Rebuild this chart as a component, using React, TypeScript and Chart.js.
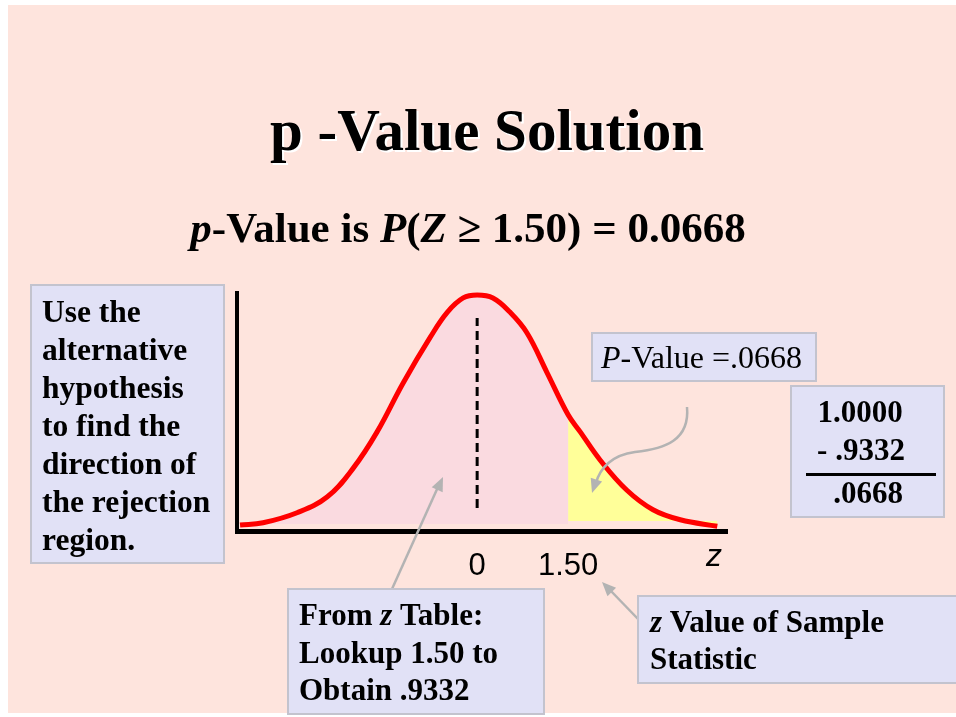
import React, { useEffect, useRef } from "react";
import { Chart, registerables } from "chart.js";
Chart.register(...registerables);

// ---- data ----
const zValues = [-3.91, -3.53, -2.97, -2.47, -2.04, -1.65, -1.22, -0.77, -0.49, -0.23, 0, 0.26, 0.54, 0.82, 1.15, 1.5, 1.7, 2.03, 2.47, 2.9, 3.35, 3.96];
const density = [0.01, 0.014, 0.031, 0.058, 0.107, 0.168, 0.251, 0.329, 0.371, 0.395, 0.4, 0.395, 0.371, 0.336, 0.269, 0.197, 0.168, 0.12, 0.069, 0.036, 0.019, 0.008];
const zObserved = 1.5;
const tickValues = [0, 1.5];
const tickLabels = ["0", "1.50"];
const meanLineZ = 0;
const meanLineRange = [0.039, 0.361];
const zMin = -3.96;
const zMax = 4.12;
const densityMax = 0.4034;

const titleText = "p -Value Solution";
const leftBoxLines = ["Use the", "alternative", "hypothesis", "to find the", "direction of", "the rejection", "region."];
const calcLines = ["1.0000", "- .9332", ".0668"];

const SERIF = '"Liberation Serif", "Times New Roman", serif';
const SANS = '"Liberation Sans", Arial, sans-serif';
const B = (s: number) => `bold ${s}px ${SERIF}`;
const BI = (s: number) => `italic bold ${s}px ${SERIF}`;
const R = (s: number) => `${s}px ${SERIF}`;
const I = (s: number) => `italic ${s}px ${SERIF}`;

type Seg = { t: string; f: string };

function rich(ctx: CanvasRenderingContext2D, segs: Seg[], x: number, y: number, align: "left" | "center") {
  let total = 0;
  for (const s of segs) {
    ctx.font = s.f;
    total += ctx.measureText(s.t).width;
  }
  let cx = align === "center" ? x - total / 2 : x;
  ctx.textAlign = "left";
  ctx.textBaseline = "alphabetic";
  for (const s of segs) {
    ctx.font = s.f;
    ctx.fillText(s.t, cx, y);
    cx += ctx.measureText(s.t).width;
  }
}

function box(ctx: CanvasRenderingContext2D, x: number, y: number, w: number, h: number) {
  ctx.fillStyle = "#E1E1F6";
  ctx.fillRect(x, y, w, h);
  ctx.strokeStyle = "#C3C3CE";
  ctx.lineWidth = 2;
  ctx.strokeRect(x, y, w, h);
}

function arrowHead(ctx: CanvasRenderingContext2D, fx: number, fy: number, tx: number, ty: number) {
  const a = Math.atan2(ty - fy, tx - fx);
  const L = 14, W = 6;
  ctx.beginPath();
  ctx.moveTo(tx, ty);
  ctx.lineTo(tx - L * Math.cos(a) + W * Math.sin(a), ty - L * Math.sin(a) - W * Math.cos(a));
  ctx.lineTo(tx - L * Math.cos(a) - W * Math.sin(a), ty - L * Math.sin(a) + W * Math.cos(a));
  ctx.closePath();
  ctx.fill();
}

const slidePlugin = {
  id: "slide",
  beforeDraw(chart: any) {
    const ctx: CanvasRenderingContext2D = chart.ctx;
    ctx.save();
    ctx.fillStyle = "#FFFFFF";
    ctx.fillRect(0, 0, chart.width, chart.height);
    ctx.fillStyle = "#FEE4DD";
    ctx.fillRect(8, 5, chart.width - 8, 708);
    ctx.restore();
  },
  afterDraw(chart: any) {
    const ctx: CanvasRenderingContext2D = chart.ctx;
    ctx.save();
    // title with white shadow
    ctx.textAlign = "center";
    ctx.textBaseline = "alphabetic";
    ctx.font = B(59);
    ctx.fillStyle = "#FFFFFF";
    ctx.fillText(titleText, 489, 152);
    ctx.fillStyle = "#000000";
    ctx.fillText(titleText, 487, 150);

    // subtitle
    ctx.fillStyle = "#000";
    rich(ctx, [
      { t: "p", f: BI(43) },
      { t: "-Value is ", f: B(43) },
      { t: "P", f: BI(43) },
      { t: "(", f: B(43) },
      { t: "Z", f: BI(43) },
      { t: " \u2265 1.50) = 0.0668", f: B(43) },
    ], 468, 242, "center");

    // arrows (gray)
    ctx.strokeStyle = "#B3B3B3";
    ctx.fillStyle = "#B3B3B3";
    ctx.lineWidth = 2.5;
    ctx.beginPath();
    ctx.moveTo(392, 589);
    ctx.lineTo(438, 487);
    ctx.stroke();
    arrowHead(ctx, 392, 589, 443, 477);

    ctx.beginPath();
    ctx.moveTo(687, 407);
    ctx.bezierCurveTo(690, 440, 665, 449, 635, 452);
    ctx.bezierCurveTo(612, 455, 600, 468, 596, 483);
    ctx.stroke();
    arrowHead(ctx, 598, 475, 592, 493);

    ctx.beginPath();
    ctx.moveTo(638, 619);
    ctx.lineTo(610, 590);
    ctx.stroke();
    arrowHead(ctx, 638, 619, 602, 582);

    // left box
    box(ctx, 31, 285, 193, 278);
    ctx.fillStyle = "#000";
    leftBoxLines.forEach((l, i) => rich(ctx, [{ t: l, f: B(31.5) }], 42, 322 + i * 38, "left"));

    // P-value box
    box(ctx, 592, 333, 224, 48);
    ctx.fillStyle = "#000";
    rich(ctx, [{ t: "P", f: I(32) }, { t: "-Value =.0668", f: R(32) }], 601, 368, "left");

    // calc box
    box(ctx, 791, 386, 153, 131);
    ctx.fillStyle = "#000";
    rich(ctx, [{ t: calcLines[0], f: B(31) }], 860, 422, "center");
    rich(ctx, [{ t: calcLines[1], f: B(31) }], 861, 460, "center");
    ctx.fillRect(806, 473, 130, 3);
    rich(ctx, [{ t: calcLines[2], f: B(31) }], 868, 503, "center");

    // From z table box
    box(ctx, 288, 589, 256, 125);
    ctx.fillStyle = "#000";
    rich(ctx, [{ t: "From ", f: B(31) }, { t: "z", f: BI(31) }, { t: " Table:", f: B(31) }], 299, 625, "left");
    rich(ctx, [{ t: "Lookup 1.50 to", f: B(31) }], 299, 663, "left");
    rich(ctx, [{ t: "Obtain .9332", f: B(31) }], 299, 700, "left");

    // z value box
    box(ctx, 638, 596, 320, 87);
    ctx.fillStyle = "#000";
    rich(ctx, [{ t: "z", f: BI(31) }, { t: " Value of Sample", f: B(31) }], 650, 632, "left");
    rich(ctx, [{ t: "Statistic", f: B(31) }], 650, 669, "left");

    // axis name z
    ctx.font = `italic 32px ${SANS}`;
    ctx.textAlign = "center";
    ctx.fillStyle = "#000";
    ctx.fillText("z", 714, 566);
    ctx.restore();
  },
};

export default function App() {
  const ref = useRef<HTMLCanvasElement>(null);
  useEffect(() => {
    document.body.style.margin = "0";
    const curve = zValues.map((z, i) => ({ x: z, y: density[i] }));
    const left = curve.filter((p) => p.x <= zObserved);
    const right = curve.filter((p) => p.x >= zObserved);
    const chart = new Chart(ref.current!, {
      type: "scatter",
      data: {
        datasets: [
          {
            data: curve,
            showLine: true,
            borderColor: "#FF0000",
            borderWidth: 5,
            pointRadius: 0,
            tension: 0.4,
            fill: false,
            order: 0,
            clip: false,
          } as any,
          {
            data: [
              { x: meanLineZ, y: meanLineRange[0] },
              { x: meanLineZ, y: meanLineRange[1] },
            ],
            showLine: true,
            borderColor: "#000000",
            borderWidth: 3,
            borderDash: [9, 5],
            pointRadius: 0,
            order: 1,
          },
          {
            data: left,
            showLine: true,
            borderWidth: 0,
            borderColor: "rgba(0,0,0,0)",
            backgroundColor: "#FADAE0",
            pointRadius: 0,
            tension: 0.4,
            fill: { value: 0.012 },
            order: 2,
          } as any,
          {
            data: right,
            showLine: true,
            borderWidth: 0,
            borderColor: "rgba(0,0,0,0)",
            backgroundColor: "#FFFF99",
            pointRadius: 0,
            tension: 0.4,
            fill: { value: 0.017 },
            order: 2,
          } as any,
        ],
      },
      options: {
        animation: false,
        responsive: false,
        maintainAspectRatio: false,
        events: [],
        layout: { padding: { left: 237, top: 293, right: 229, bottom: 0 } },
        plugins: { legend: { display: false }, tooltip: { enabled: false }, title: { display: false } },
        scales: {
          x: {
            type: "linear",
            min: zMin,
            max: zMax,
            grid: { display: false, drawTicks: false },
            border: { display: true, color: "#000", width: 5 },
            afterFit: (s: any) => {
              s.height = 186;
            },
            afterBuildTicks: (s: any) => {
              s.ticks = tickValues.map((v) => ({ value: v }));
            },
            ticks: {
              color: "#000",
              padding: 17,
              font: { family: SANS, size: 31 },
              maxRotation: 0,
              autoSkip: false,
              callback: (v: any) => {
                const i = tickValues.indexOf(Number(v));
                return i >= 0 ? tickLabels[i] : "";
              },
            },
          },
          y: {
            type: "linear",
            min: 0,
            max: densityMax,
            grid: { display: false, drawTicks: false },
            border: { display: true, color: "#000", width: 4 },
            ticks: { display: false },
            afterFit: (s: any) => {
              s.width = 0;
            },
          },
        },
      },
      plugins: [slidePlugin],
    } as any);
    return () => chart.destroy();
  }, []);
  return (
    <div style={{ width: 956, height: 717 }}>
      <canvas ref={ref} width={956} height={717} style={{ display: "block" }} />
    </div>
  );
}
